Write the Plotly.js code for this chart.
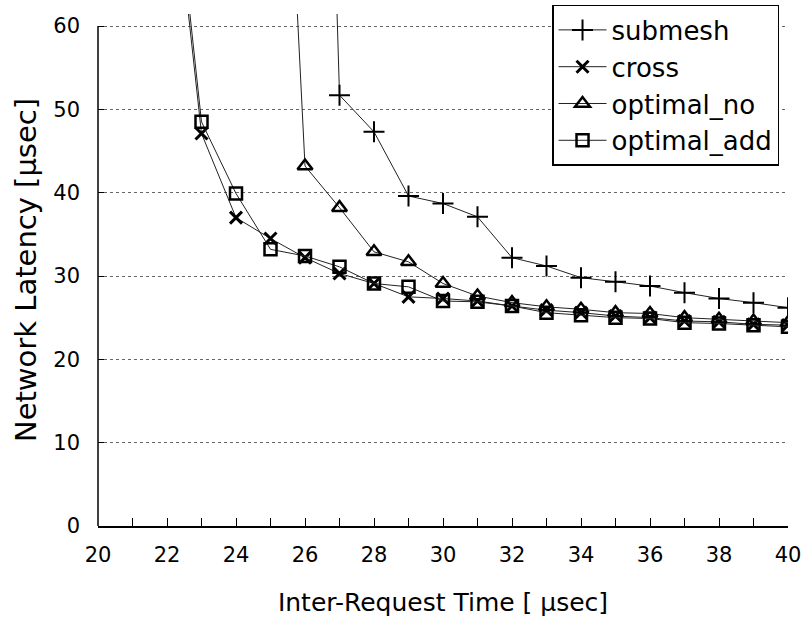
<!DOCTYPE html>
<html>
<head>
<meta charset="utf-8">
<script src="https://cdn.plot.ly/plotly-3.0.1.min.js"></script>
<style>html,body{margin:0;padding:0;background:#fff;}</style>
</head>
<body>
<div id="chart" style="width:801px;height:631px;"></div>
<script>
const requestTime = [22,23,24,25,26,27,28,29,30,31,32,33,34,35,36,37,38,39,40];
const submesh     = [null,null,null,null,190,51.7,47.3,39.6,38.7,37.1,32.2,31.2,29.8,29.3,28.8,28.0,27.3,26.8,26.2];
const cross       = [85,47.1,37.0,34.5,32.2,30.3,29.1,27.5,27.3,27.0,26.4,25.9,25.6,25.2,25.0,24.6,24.5,24.2,24.1];
const optimalNo   = [null,null,null,126,43.2,38.2,32.9,31.7,29.1,27.6,26.8,26.3,26.0,25.6,25.5,25.0,24.8,24.6,24.4];
const optimalAdd  = [87,48.5,39.9,33.2,32.4,31.1,29.1,28.7,27.0,26.9,26.4,25.6,25.3,25.0,24.9,24.4,24.3,24.1,23.9];
const seriesNames = ['submesh','cross','optimal_no','optimal_add'];
const yTicks = [0,10,20,30,40,50,60];
const xTicks = [20,22,24,26,28,30,32,34,36,38,40];

const lineStyle = {color:'#222', width:1};
function trace(name, y, symbol, size, mlw){
  return {
    x: requestTime, y: y, name: name, type:'scatter', mode:'lines+markers',
    line: lineStyle,
    marker: {symbol: symbol, size: size, color:'#000', line:{color:'#000', width:mlw}}
  };
}
const data = [
  trace(seriesNames[0], submesh, 'cross-thin-open', 15, 2),
  trace(seriesNames[1], cross, 'x-thin-open', 12, 3),
  trace(seriesNames[2], optimalNo, 'triangle-up-open', 13, 2.5),
  trace(seriesNames[3], optimalAdd, 'square-open', 12, 2.5)
];

const font = 'DejaVu Sans, sans-serif';
const layout = {
  width: 801, height: 631,
  margin: {l:98, r:13, t:14, b:105, autoexpand:false},
  paper_bgcolor:'#fff', plot_bgcolor:'#fff',
  font: {family: font, color:'#000'},
  showlegend: true,
  legend: {
    x: 0.658, y: 1.0176, xanchor:'left', yanchor:'top',
    bgcolor:'#fff', bordercolor:'#000', borderwidth:1.5,
    font:{family: font, size:26, color:'#000'},
    itemwidth: 48, tracegroupgap: 0
  },
  xaxis: {
    range:[20,40], tickvals: xTicks, ticktext: xTicks.map(String),
    ticks:'inside', ticklen:8, tickcolor:'#000', tickwidth:1,
    minor:{dtick:1, ticks:'inside', ticklen:8, tickcolor:'#000', showgrid:false},
    showline:true, linecolor:'#000', linewidth:1.5,
    showgrid:false, zeroline:false, automargin:false,
    ticklabeloverflow:'allow',
    tickfont:{family: font, size:21, color:'#000'},
    ticklabelstandoff: 9,
    title:{text:'Inter-Request Time [ μsec]', font:{family: font, size:25, color:'#000'}, standoff: 28}
  },
  yaxis: {
    range:[0,61.44], tickvals: yTicks, ticktext: yTicks.map(String),
    ticks:'inside', ticklen:6, tickcolor:'#000', tickwidth:1,
    showline:false, showgrid:true, gridcolor:'#666', griddash:'dot', gridwidth:1,
    zeroline:false, automargin:false,
    tickfont:{family: font, size:21, color:'#000'},
    ticklabelstandoff: 17,
    title:{text:'Network Latency [μsec]', font:{family: font, size:29, color:'#000'}, standoff: 8}
  },
  shapes: [
    {type:'line', xref:'paper', yref:'y', x0:0, x1:0, y0:0, y1:60, line:{color:'#000', width:1.5}}
  ]
};
Plotly.newPlot('chart', data, layout, {displayModeBar:false, staticPlot:true});
</script>
</body>
</html>
